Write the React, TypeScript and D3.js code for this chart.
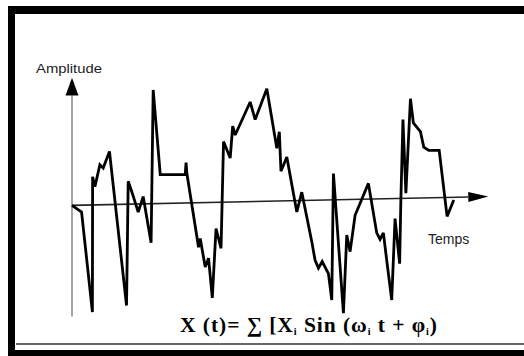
import React from "react";
import * as d3 from "d3";

// signal: time (0..100) and amplitude (-1..1)
const time = [
  0, 2.3, 4.9, 4.95, 5.5, 6.7, 7.5, 9.0, 13.1, 13.5, 14.4, 15.9, 17.1, 19.0, 19.5,
  21.2, 27.2, 27.4, 27.6, 30.4, 30.8, 32.0, 32.8, 33.7, 34.6, 35.8, 36.4, 38.0,
  38.6, 39.2, 42.8, 44.0, 46.8, 49.2, 49.8, 50.2, 51.6, 54.0, 55.2, 57.6, 58.4,
  59.2, 60.1, 61.6, 62.4, 62.8, 65.2, 66.0, 66.8, 68.0, 71.2, 73.2, 74.0, 74.8,
  75.6, 76.8, 77.6, 78.7, 79.0, 79.5, 80.2, 81.3, 82.0, 83.7, 84.5, 85.7, 88.2,
  90.1, 91.7,
];
const amplitude = [
  -0.04, -0.1, -1.01, 0.22, 0.13, 0.33, 0.3, 0.45, -0.95, 0.18, 0.08, -0.1, 0.04,
  -0.38, 1.01, 0.24, 0.24, 0.35, 0.25, -0.42, -0.34, -0.6, -0.52, -0.88, -0.25,
  -0.43, 0.54, 0.39, 0.68, 0.6, 0.9, 0.74, 1.02, 0.48, 0.63, 0.27, 0.4, -0.1, 0.08,
  -0.37, -0.54, -0.61, -0.55, -0.66, -0.9, 0.25, -1.02, -0.31, -0.46, -0.13, 0.16,
  -0.29, -0.35, -0.29, -0.54, -0.9, -0.16, -0.57, 0.01, 0.74, 0.07, 0.93, 0.71,
  0.63, 0.49, 0.46, 0.46, -0.14, 0.01,
];

const timeExtent = [0, 100];
const axisTilt = [-0.04, 0.04]; // the time axis drawn slightly tilted
const ampAxis = [-1.05, 0.96, 1.12]; // bottom, arrow base, arrow tip

const yLabel = "Amplitude";
const xLabel = "Temps";

const W = 524;
const H = 356;

export default function App() {
  const x = d3.scaleLinear().domain(timeExtent).range([72, 488.3]);
  const y = d3.scaleLinear().domain([-1, 1]).range([311, 91]);

  const pts: [number, number][] = time.map((t, i) => [x(t), y(amplitude[i])]);
  const line = d3.line()(pts) || "";

  // time axis with arrow
  const x0 = x(timeExtent[0]), y0 = y(axisTilt[0]);
  const x1 = x(timeExtent[1]), y1 = y(axisTilt[1]);
  const ang = Math.atan2(y1 - y0, x1 - x0);
  const hl = 20, hw = 5;
  const bx = x1 - hl * Math.cos(ang), by = y1 - hl * Math.sin(ang);
  const head = [
    [x1, y1],
    [bx - hw * Math.sin(ang), by + hw * Math.cos(ang)],
    [bx + hw * Math.sin(ang), by - hw * Math.cos(ang)],
  ].map(p => p.join(",")).join(" ");

  // amplitude axis
  const ax = x(0);
  const vHead = [
    [ax, y(ampAxis[2])],
    [ax - 6.5, y(ampAxis[1])],
    [ax + 6.5, y(ampAxis[1])],
  ].map(p => p.join(",")).join(" ");

  return (
    <svg width={W} height={H} style={{ position: "absolute", left: 0, top: 0, background: "#fff" }}>
      {/* frame */}
      <rect x={8} y={6} width={W - 8} height={8} fill="#000" />
      <rect x={8} y={6} width={7} height={H - 6} fill="#000" />
      <rect x={8} y={350} width={W - 8} height={6} fill="#000" />
      <line x1={16} x2={W} y1={344} y2={344} stroke="#333" strokeWidth={1.6} />

      {/* axes */}
      <line x1={ax} x2={ax} y1={y(ampAxis[0])} y2={y(ampAxis[1])} stroke="#888" strokeWidth={1.5} />
      <polygon points={vHead} fill="#000" />
      <line x1={x0} y1={y0} x2={bx} y2={by} stroke="#222" strokeWidth={1.6} />
      <polygon points={head} fill="#000" />

      {/* signal */}
      <path d={line} fill="none" stroke="#000" strokeWidth={2.8}
        strokeLinejoin="miter" strokeMiterlimit={2.5} />

      <text x={36} y={72.7} fontFamily="Liberation Sans, Arial, sans-serif" fontSize={13.5}
        textLength={66} lengthAdjust="spacingAndGlyphs" fill="#222">{yLabel}</text>
      <text x={428} y={244} fontFamily="Liberation Sans, Arial, sans-serif" fontSize={14}
        fill="#222">{xLabel}</text>

      <text x={180} y={331.7} fontFamily="Liberation Serif, Times New Roman, serif"
        fontWeight="bold" fontSize={21.5} fill="#000" textLength={257} lengthAdjust="spacing">
        X (t)= ∑ [X<tspan dy={3} fontSize={10}>i</tspan>
        <tspan dy={-3}> Sin (ω</tspan><tspan dy={3} fontSize={10}>i</tspan>
        <tspan dy={-3}> t + φ</tspan><tspan dy={3} fontSize={10}>i</tspan>
        <tspan dy={-3}>)</tspan>
      </text>
    </svg>
  );
}
